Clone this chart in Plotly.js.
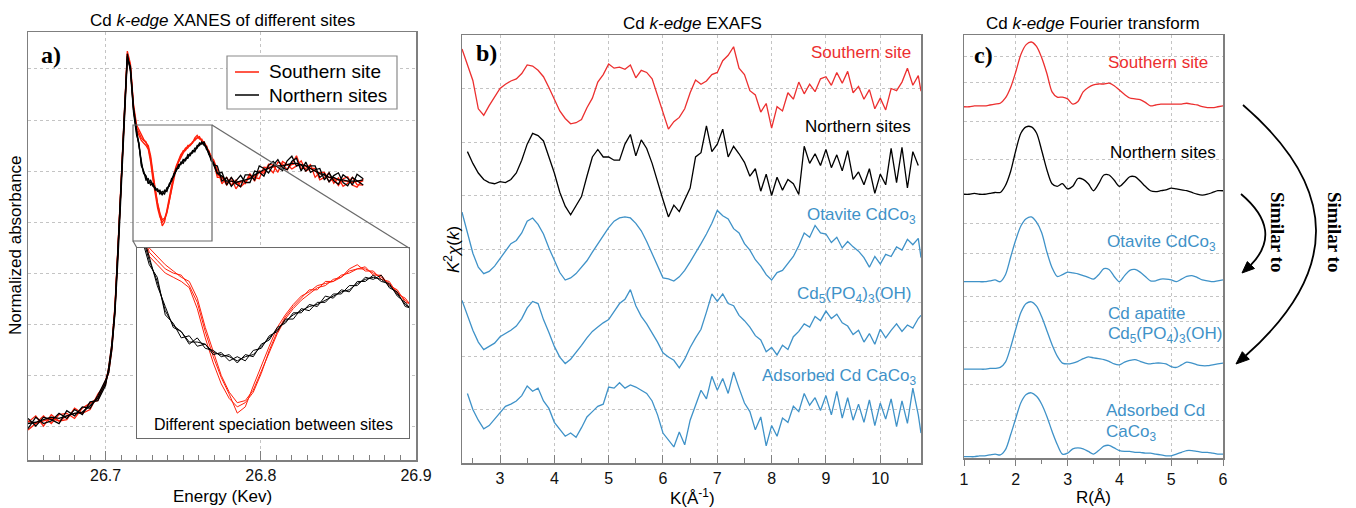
<!DOCTYPE html>
<html>
<head>
<meta charset="utf-8">
<script src="https://cdn.plot.ly/plotly-3.0.1.min.js"></script>
<style>html,body{margin:0;padding:0;background:#fff;}#chart{width:1356px;height:508px;}</style>
</head>
<body>
<div id="chart"></div>
<script>
// ---------------- DATA ----------------
// Panel a: XANES (energy in keV, normalized absorbance)
const energy = [26.650,26.655,26.660,26.665,26.670,26.675,26.680,26.685,26.690,26.695,26.700,
26.702,26.704,26.706,26.708,26.710,26.712,26.714,26.716,26.718,
26.7200,26.7215,26.7230,26.7245,26.7260,26.7275,26.7290,26.7305,26.7320,26.7335,26.7350,26.7365,26.7380,26.7395,26.7410,26.7425,26.7440,26.7455,26.7470,26.7485,26.7500,26.7515,26.7530,26.7545,26.7560,26.7575,26.7590,26.7605,26.7620,26.7635,26.7650,26.7665,26.7680,26.7695,
26.772,26.775,26.778,26.781,26.784,26.787,26.790,26.793,26.796,26.799,26.802,26.805,26.808,26.811,26.814,26.817,26.820,26.823,26.826,26.829,26.832,26.835,26.838,26.841,26.844,26.847,26.850,26.853,26.856,26.859,26.862,26.866];

const southern1 = [0.015,0.04,0.00,0.045,0.02,0.025,0.07,0.05,0.065,0.125,0.165,
0.23,0.32,0.47,0.71,0.98,1.25,1.47,1.42,1.26,
1.18,1.16,1.14,1.125,1.11,1.10,1.06,0.99,0.93,0.875,0.835,0.81,0.815,0.84,0.885,0.93,0.975,1.01,1.035,1.055,1.07,1.085,1.09,1.105,1.11,1.13,1.14,1.125,1.125,1.105,1.10,1.07,1.06,1.035,
0.975,0.975,0.945,0.975,0.93,0.958,0.95,0.985,0.975,0.97,1.015,1.012,0.993,1.035,1.027,1.005,1.028,1.06,1.01,1.01,1.025,0.975,0.995,0.995,0.958,0.972,0.943,0.97,0.977,0.945,0.937,0.97];
const southern2 = [-0.015,0.01,0.04,0.01,0.045,0.05,0.03,0.07,0.09,0.10,0.175,
0.21,0.30,0.45,0.69,0.96,1.23,1.45,1.40,1.24,
1.16,1.14,1.12,1.11,1.10,1.085,1.035,0.965,0.905,0.855,0.82,0.80,0.81,0.835,0.88,0.935,0.98,1.015,1.04,1.06,1.08,1.08,1.10,1.10,1.115,1.12,1.13,1.135,1.115,1.115,1.09,1.08,1.05,1.045,
1.005,0.95,0.975,0.945,0.965,0.938,0.955,0.99,0.96,1.0,0.99,1.027,1.023,0.995,1.037,1.025,1.008,1.02,1.04,1.0,1.01,1.01,0.965,0.975,0.993,0.952,0.973,0.94,0.952,0.975,0.947,0.945];
const southern3 = [0.02,0.01,0.02,0.03,0.02,0.04,0.05,0.05,0.09,0.11,0.18,
0.22,0.31,0.46,0.70,0.97,1.24,1.46,1.41,1.25,
1.17,1.15,1.13,1.12,1.115,1.09,1.05,0.98,0.92,0.87,0.83,0.785,0.80,0.85,0.90,0.945,0.99,1.02,1.045,1.065,1.075,1.09,1.095,1.10,1.11,1.125,1.13,1.13,1.12,1.11,1.095,1.075,1.055,1.04,
0.985,0.975,0.955,0.96,0.95,0.96,0.96,0.975,0.98,0.995,1.0,1.015,1.015,1.02,1.02,1.025,1.025,1.03,1.025,1.02,1.01,1.0,0.99,0.985,0.975,0.97,0.965,0.96,0.96,0.955,0.96,0.96];

const northern1 = [0.03,0.00,0.035,0.025,0.01,0.06,0.04,0.075,0.07,0.12,0.18,
0.21,0.30,0.44,0.66,0.93,1.20,1.44,1.41,1.25,
1.16,1.09,1.04,0.99,0.98,0.95,0.965,0.94,0.935,0.92,0.925,0.905,0.925,0.92,0.95,0.96,0.99,1.00,1.025,1.025,1.045,1.04,1.065,1.06,1.08,1.075,1.10,1.10,1.115,1.10,1.095,1.065,1.05,1.025,
1.02,0.96,0.975,0.94,0.96,0.983,0.955,0.955,1.0,0.995,0.98,1.022,1.038,1.015,1.002,1.04,1.058,1.02,1.025,1.0,1.02,1.02,0.975,0.99,0.958,0.982,0.993,0.955,0.942,0.975,0.962,0.945];
const northern2 = [-0.01,0.035,0.01,0.02,0.05,0.03,0.065,0.045,0.095,0.10,0.16,
0.23,0.32,0.46,0.70,0.97,1.24,1.46,1.39,1.23,
1.14,1.11,1.02,1.00,0.965,0.97,0.945,0.95,0.925,0.93,0.91,0.92,0.91,0.935,0.94,0.97,0.98,1.01,1.01,1.035,1.03,1.05,1.05,1.07,1.07,1.09,1.09,1.11,1.105,1.115,1.085,1.075,1.04,1.035,
0.99,0.995,0.945,0.975,0.95,0.938,0.985,0.985,0.965,1.02,1.01,0.992,1.023,1.045,1.012,1.005,1.038,1.05,1.0,1.035,0.995,1.005,1.01,0.965,0.993,0.962,0.948,0.985,0.972,0.945,0.987,0.97];
const northern3 = [0.01,0.015,0.025,0.035,0.03,0.04,0.05,0.055,0.08,0.11,0.17,
0.22,0.31,0.45,0.68,0.95,1.22,1.45,1.40,1.24,
1.15,1.10,1.03,0.995,0.98,0.955,0.955,0.95,0.93,0.925,0.92,0.91,0.92,0.925,0.945,0.965,0.985,1.005,1.02,1.03,1.04,1.045,1.055,1.065,1.075,1.08,1.095,1.105,1.11,1.105,1.09,1.07,1.045,1.03,
0.99,0.98,0.96,0.96,0.955,0.96,0.965,0.97,0.985,0.995,1.005,1.01,1.02,1.02,1.02,1.025,1.03,1.03,1.025,1.02,1.01,1.0,0.99,0.985,0.975,0.975,0.965,0.965,0.96,0.96,0.96,0.965];

const energyTicks = [26.7, 26.8, 26.9];
const energyTickText = ["26.7", "26.8", "26.9"];
const legendLabels = ["Southern site", "Northern sites"];

// Panel b: EXAFS k^2 chi(k), stacked
const kValues = [2.3,2.4,2.5,2.6,2.7,2.8,2.9,3.0,3.1,3.2,
3.3,3.4,3.5,3.6,3.7,3.8,3.9,4.0,4.1,4.2,
4.3,4.4,4.5,4.6,4.7,4.8,4.9,5.0,5.1,5.2,
5.3,5.4,5.5,5.6,5.7,5.8,5.9,6.0,6.1,6.2,
6.3,6.4,6.5,6.6,6.7,6.8,6.9,7.0,7.1,7.2,
7.3,7.4,7.5,7.6,7.7,7.8,7.9,8.0,8.1,8.2,
8.3,8.4,8.5,8.6,8.7,8.8,8.9,9.0,9.1,9.2,
9.3,9.4,9.5,9.6,9.7,9.8,9.9,10.0,10.1,10.2,
10.3,10.4,10.5,10.6,10.7,10.75];
const exafsSouthern = [7.74,7.45,7.15,6.62,6.50,6.68,6.85,7.00,7.08,7.14,
7.18,7.28,7.44,7.42,7.34,7.22,7.02,6.80,6.58,6.44,
6.34,6.36,6.42,6.64,6.82,7.12,7.26,7.46,7.38,7.40,
7.36,7.44,7.20,7.34,7.30,7.18,6.86,6.52,6.24,6.38,
6.46,6.62,6.92,7.16,7.08,7.14,7.26,7.30,7.52,7.62,
7.78,7.38,7.26,6.96,6.88,6.56,6.72,6.26,6.66,6.58,
6.92,6.80,7.12,6.90,7.08,6.94,7.18,7.22,7.06,7.30,
7.10,7.32,6.92,7.04,6.80,6.98,6.62,6.82,6.60,7.00,
6.96,7.12,7.38,7.06,7.24,6.95];
const exafsNorthern = [null,5.82,5.60,5.42,5.30,5.24,5.22,5.26,5.24,5.30,
5.42,5.66,5.96,6.16,6.12,6.02,5.74,5.42,5.06,4.80,
4.64,4.80,4.98,5.36,5.72,5.86,5.72,5.72,5.66,5.66,
5.96,6.14,5.74,6.04,5.88,5.60,5.24,4.92,4.60,4.82,
4.70,4.92,5.14,5.72,5.80,6.30,5.82,5.96,6.24,5.72,
5.92,5.78,5.62,5.36,5.50,5.08,5.40,5.00,5.34,5.10,
5.30,5.22,5.02,5.92,5.60,5.78,5.56,5.86,5.52,5.76,
5.46,5.84,5.30,5.44,5.20,5.50,5.04,5.40,5.20,5.88,
5.24,5.90,5.14,5.82,5.56,null];
const exafsOtavite = [4.69,4.28,3.92,3.66,3.54,3.58,3.68,3.82,3.96,4.10,
4.16,4.30,4.52,4.58,4.46,4.28,4.02,3.78,3.56,3.42,
3.46,3.54,3.66,3.78,3.94,4.10,4.26,4.40,4.52,4.58,
4.60,4.58,4.48,4.34,4.14,3.92,3.68,3.46,3.44,3.40,
3.48,3.60,3.76,3.92,4.10,4.28,4.48,4.72,4.62,4.56,
4.38,4.30,4.10,3.98,3.80,3.68,3.52,3.42,3.56,3.60,
3.74,3.86,4.06,4.30,4.22,4.44,4.30,4.28,4.12,4.22,
4.02,4.14,4.04,3.96,3.84,3.66,3.86,3.72,3.90,3.86,
4.04,3.98,4.18,4.08,4.20,3.84];
const exafsApatite = [3.04,2.74,2.48,2.26,2.12,2.18,2.24,2.36,2.42,2.48,
2.56,2.70,2.90,3.02,2.98,2.68,2.44,2.18,1.98,1.86,
1.94,2.06,2.20,2.34,2.46,2.54,2.62,2.68,2.84,2.98,
3.06,3.24,2.94,2.74,2.60,2.44,2.26,2.06,1.98,1.92,
1.78,1.94,2.16,2.34,2.50,2.82,3.16,3.02,3.16,2.98,
2.94,2.76,2.66,2.54,2.38,2.30,2.08,2.16,2.02,2.20,
2.12,2.36,2.46,2.60,2.54,2.74,2.66,2.84,2.70,2.78,
2.62,2.56,2.40,2.48,2.26,2.42,2.22,2.50,2.34,2.48,
2.60,2.46,2.58,2.52,2.70,2.76];
const exafsAdsorbed = [null,1.30,1.00,0.80,0.64,0.70,0.82,0.94,1.06,1.10,
1.16,1.26,1.44,1.34,1.40,1.16,1.02,0.76,0.64,0.50,
0.56,0.48,0.66,0.86,0.96,1.06,1.10,1.42,1.40,1.50,
1.40,1.46,1.42,1.36,1.30,1.16,0.90,0.56,0.44,0.30,
0.58,0.34,0.80,1.08,1.36,1.20,1.62,1.36,1.58,1.30,
1.70,1.40,1.12,0.96,0.62,0.86,0.32,0.70,0.50,0.84,
0.76,1.06,0.96,1.30,1.08,1.22,0.98,1.26,0.90,1.34,
0.84,1.22,0.80,1.10,0.76,1.18,0.70,1.12,0.82,1.20,
0.68,1.16,0.74,1.40,0.90,0.56];
const kTicks = [3,4,5,6,7,8,9,10];
const exafsGrid = [1,2,3,4,5,6,7];

// Panel c: Fourier transform magnitude, stacked
const rValues = [1.0,1.1,1.2,1.3,1.4,1.5,1.6,1.7,1.8,1.9,
2.0,2.1,2.2,2.3,2.4,2.5,2.6,2.7,2.8,2.9,
3.0,3.1,3.2,3.3,3.4,3.5,3.6,3.7,3.8,3.9,
4.0,4.1,4.2,4.3,4.4,4.5,4.6,4.7,4.8,4.9,
5.0,5.1,5.2,5.3,5.4,5.5,5.6,5.7,5.8,5.9,6.0];
const ftSouthern = [4.00,4.00,4.01,4.01,4.01,4.02,4.03,4.04,4.10,4.22,
4.40,4.60,4.71,4.74,4.69,4.56,4.38,4.17,4.11,4.11,
4.09,4.03,4.06,4.17,4.22,4.25,4.26,4.26,4.27,4.24,
4.19,4.14,4.10,4.09,4.08,4.05,4.01,4.02,4.03,4.03,
4.03,4.03,4.03,4.04,4.03,4.02,4.00,3.99,3.99,4.00,4.01];
const ftNorthern = [3.00,3.00,3.01,3.00,3.00,3.01,3.02,3.02,3.10,3.26,
3.50,3.70,3.77,3.77,3.70,3.50,3.28,3.12,3.09,3.12,
3.06,3.09,3.18,3.17,3.12,3.04,3.12,3.22,3.22,3.16,
3.09,3.14,3.20,3.20,3.15,3.09,3.04,3.03,3.04,3.05,
3.07,3.06,3.05,3.04,3.02,3.00,2.99,3.00,3.02,3.04,3.04];
const ftOtavite = [2.00,2.00,2.00,2.00,2.00,2.01,2.02,2.00,2.08,2.28,
2.48,2.64,2.72,2.74,2.68,2.56,2.34,2.16,2.06,2.08,
2.11,2.10,2.09,2.07,2.05,2.03,2.08,2.15,2.14,2.06,
2.00,2.07,2.13,2.14,2.11,2.06,2.01,2.01,2.03,2.03,
2.02,2.00,2.03,2.06,2.07,2.05,2.02,2.01,2.00,2.01,2.02];
const ftApatite = [1.00,1.00,1.00,1.00,1.00,1.01,1.01,1.02,1.08,1.25,
1.46,1.65,1.75,1.77,1.72,1.60,1.44,1.28,1.15,1.07,
1.06,1.07,1.09,1.12,1.14,1.13,1.12,1.11,1.09,1.06,
1.05,1.08,1.10,1.11,1.09,1.07,1.06,1.07,1.07,1.06,
1.03,1.02,1.05,1.08,1.07,1.05,1.04,1.04,1.05,1.06,1.07];
const ftAdsorbed = [0.00,0.00,0.00,0.01,0.01,0.02,0.03,0.02,0.08,0.25,
0.44,0.62,0.71,0.73,0.69,0.60,0.46,0.29,0.14,0.03,
0.04,0.09,0.10,0.09,0.06,0.03,0.07,0.12,0.13,0.10,
0.07,0.06,0.06,0.05,0.05,0.04,0.04,0.03,0.02,0.01,
0.01,0.03,0.05,0.07,0.07,0.06,0.05,0.05,0.04,0.03,0.03];
const rTicks = [1,2,3,4,5,6];
const ftGrid = [0.41,0.82,1.25,1.54,1.83,2.32,2.66,3.40,3.83,4.28,4.57];

// ---------------- LAYOUT HELPERS ----------------
const W = 1356, H = 508;
const px = x => x / W;
const py = y => 1 - y / H;
const SANS = 'Liberation Sans, Arial, Helvetica, sans-serif';
const SERIF = 'Liberation Serif, Times New Roman, serif';
const RED_A = '#ff1f0a', RED = '#ec2f2f', BLUE = '#3f92c8', BLACK = '#000000';
const AXC = '#7f7f7f', GRIDC = '#c4c4c4';

const traces = [];
const redSets = [southern1, southern2, southern3];
const blackSets = [northern1, northern2, northern3];
// main XANES
redSets.forEach(s => traces.push({x: energy, y: s, xaxis: 'x', yaxis: 'y', type: 'scatter', mode: 'lines',
  line: {color: RED_A, width: 1.3}, name: legendLabels[0], showlegend: false}));
blackSets.forEach(s => traces.push({x: energy, y: s, xaxis: 'x', yaxis: 'y', type: 'scatter', mode: 'lines',
  line: {color: BLACK, width: 1.3}, name: legendLabels[1], showlegend: false}));
// inset
redSets.forEach(s => traces.push({x: energy, y: s, xaxis: 'x2', yaxis: 'y2', type: 'scatter', mode: 'lines',
  line: {color: RED_A, width: 1}, showlegend: false}));
blackSets.forEach(s => traces.push({x: energy, y: s, xaxis: 'x2', yaxis: 'y2', type: 'scatter', mode: 'lines',
  line: {color: BLACK, width: 1}, showlegend: false}));
// EXAFS
[[exafsSouthern, RED], [exafsNorthern, BLACK], [exafsOtavite, BLUE], [exafsApatite, BLUE], [exafsAdsorbed, BLUE]]
  .forEach(([s, c]) => traces.push({x: kValues, y: s, xaxis: 'x3', yaxis: 'y3', type: 'scatter', mode: 'lines',
    line: {color: c, width: 1.3}, showlegend: false, connectgaps: false}));
// FT
[[ftSouthern, RED], [ftNorthern, BLACK], [ftOtavite, BLUE], [ftApatite, BLUE], [ftAdsorbed, BLUE]]
  .forEach(([s, c]) => traces.push({x: rValues, y: s, xaxis: 'x4', yaxis: 'y4', type: 'scatter', mode: 'lines',
    line: {color: c, width: 1.3, shape: 'spline', smoothing: 0.8}, showlegend: false}));

const frame = {showline: true, linecolor: AXC, linewidth: 1.5, mirror: true, zeroline: false};
const tickF = {family: SANS, size: 16, color: '#111'};

const layout = {
  width: W, height: H,
  margin: {l: 0, r: 0, t: 0, b: 0},
  paper_bgcolor: '#fff', plot_bgcolor: '#fff',
  showlegend: false,
  xaxis: Object.assign({}, frame, {domain: [px(28), px(416)], range: [26.65, 26.9], anchor: 'y',
    tickvals: energyTicks, ticktext: energyTickText, ticks: 'inside', ticklen: 9, tickcolor: AXC,
    tickfont: tickF, showgrid: true, gridcolor: GRIDC, griddash: 'dot', gridwidth: 1,
    minor: {dtick: 0.01, tick0: 26.65, ticks: 'inside', ticklen: 5, tickcolor: AXC, showgrid: false}}),
  yaxis: Object.assign({}, frame, {domain: [py(460), py(32)], range: [-0.133, 1.545], anchor: 'x',
    tickvals: [0, 0.2, 0.4, 0.6, 0.8, 1.0, 1.2, 1.4], showticklabels: false, ticks: '',
    showgrid: true, gridcolor: GRIDC, griddash: 'dot', gridwidth: 1}),
  xaxis2: {domain: [px(137), px(409)], range: [26.7177, 26.7687], anchor: 'y2',
    showline: true, linecolor: '#6a6a6a', linewidth: 1.2, mirror: true, showgrid: false, zeroline: false,
    showticklabels: false, ticks: ''},
  yaxis2: {domain: [py(438), py(248)], range: [0.7255, 1.18], anchor: 'x2',
    showline: true, linecolor: '#6a6a6a', linewidth: 1.2, mirror: true, showgrid: false, zeroline: false,
    showticklabels: false, ticks: ''},
  xaxis3: Object.assign({}, frame, {domain: [px(462), px(921)], range: [2.3, 10.75], anchor: 'y3',
    tickvals: kTicks, ticks: 'inside', ticklen: 8, tickcolor: AXC, tickfont: tickF,
    showgrid: true, gridcolor: GRIDC, griddash: 'dot', gridwidth: 1,
    minor: {dtick: 0.5, tick0: 2.5, ticks: 'inside', ticklen: 5, tickcolor: AXC, showgrid: false}}),
  yaxis3: Object.assign({}, frame, {domain: [py(463), py(35)], range: [0, 8], anchor: 'x3',
    tickvals: exafsGrid, showticklabels: false, ticks: '',
    showgrid: true, gridcolor: GRIDC, griddash: 'dot', gridwidth: 1}),
  xaxis4: Object.assign({}, frame, {domain: [px(964), px(1223)], range: [1, 6], anchor: 'y4',
    tickvals: rTicks, ticks: 'outside', ticklen: 6, tickcolor: AXC, tickfont: tickF,
    showgrid: true, gridcolor: GRIDC, griddash: 'dot', gridwidth: 1,
    minor: {dtick: 0.5, tick0: 1.5, ticks: 'outside', ticklen: 4, tickcolor: AXC, showgrid: false}}),
  yaxis4: Object.assign({}, frame, {domain: [py(458), py(35)], range: [-0.015, 4.82], anchor: 'x4',
    tickvals: ftGrid, showticklabels: false, ticks: '',
    showgrid: true, gridcolor: GRIDC, griddash: 'dot', gridwidth: 1}),
  annotations: [],
  shapes: []
};

function ann(text, x, y, o) {
  o = o || {};
  layout.annotations.push({
    text: text, x: px(x), y: py(y), xref: 'paper', yref: 'paper', showarrow: false,
    xanchor: o.xanchor || 'center', yanchor: 'middle', align: o.align || 'center',
    textangle: o.angle || 0,
    font: {family: o.family || SANS, size: o.size || 17, color: o.color || '#000', weight: o.weight || 'normal'}
  });
}
// titles
ann('Cd <i>k-edge</i> XANES of different sites', 222, 20);
ann('Cd <i>k-edge</i> EXAFS', 692, 23);
ann('Cd <i>k-edge</i> Fourier transform', 1093, 23);
// panel letters
ann('a)', 51, 55, {family: SERIF, size: 24, weight: 'bold'});
ann('b)', 486, 53, {family: SERIF, size: 24, weight: 'bold'});
ann('c)', 983, 55, {family: SERIF, size: 24, weight: 'bold'});
// axis titles
ann('Normalized absorbance', 15, 245, {angle: -90});
ann('Energy (Kev)', 222, 496);
ann('<i>K</i><sup>2</sup><i>χ</i>(<i>k</i>)', 452, 250, {angle: -90});
ann('K(Å<sup>-1</sup>)', 692, 497);
ann('R(Å)', 1093, 497);
// inset note
ann('Different speciation between sites', 273, 424, {size: 16});
// panel b labels
ann('Southern site', 913, 52, {xanchor: 'right', color: RED});
ann('Northern sites', 913, 126, {xanchor: 'right'});
ann('Otavite CdCo<sub>3</sub>', 918, 216, {xanchor: 'right', color: BLUE});
ann('Cd<sub>5</sub>(PO<sub>4</sub>)<sub>3</sub>(OH)', 913, 295, {xanchor: 'right', color: BLUE});
ann('Adsorbed Cd CaCo<sub>3</sub>', 918, 377, {xanchor: 'right', color: BLUE});
// panel c labels
ann('Southern site', 1158, 62, {color: RED});
ann('Northern sites', 1163, 152);
ann('Otavite CdCo<sub>3</sub>', 1161, 243, {color: BLUE});
ann('Cd apatite', 1106, 313, {xanchor: 'left', color: BLUE});
ann('Cd<sub>5</sub>(PO<sub>4</sub>)<sub>3</sub>(OH)', 1106, 335, {xanchor: 'left', color: BLUE});
ann('Adsorbed Cd', 1104, 410, {xanchor: 'left', color: BLUE});
ann('CaCo<sub>3</sub>', 1104, 433, {xanchor: 'left', color: BLUE});
// "Similar to"
ann('Similar to', 1278, 232, {family: SERIF, size: 19, angle: 90, weight: 'bold'});
ann('Similar to', 1335, 232, {family: SERIF, size: 19, angle: 90, weight: 'bold'});
// legend texts (panel a)
ann(legendLabels[0], 267, 72, {xanchor: 'left', size: 19});
ann(legendLabels[1], 267, 95, {xanchor: 'left', size: 19});

// shapes (paper coordinates)
function P(x, y) { return px(x).toFixed(5) + ',' + py(y).toFixed(5); }
function line(x0, y0, x1, y1, c, w) {
  layout.shapes.push({type: 'line', xref: 'paper', yref: 'paper', x0: px(x0), y0: py(y0), x1: px(x1), y1: py(y1),
    line: {color: c, width: w}, layer: 'above'});
}
// legend box (panel a)
layout.shapes.push({type: 'rect', xref: 'paper', yref: 'paper', x0: px(227), x1: px(397), y0: py(109), y1: py(56),
  line: {color: '#8a8a8a', width: 1.2}, fillcolor: '#ffffff', layer: 'above'});
line(235, 72, 259, 72, RED_A, 1.5);
line(235, 95, 259, 95, BLACK, 1.5);
// zoom box & connectors
layout.shapes.push({type: 'rect', xref: 'paper', yref: 'paper', x0: px(133), x1: px(212), y0: py(241), y1: py(125),
  line: {color: '#6a6a6a', width: 1.2}, fillcolor: 'rgba(0,0,0,0)', layer: 'above'});
line(212, 125, 409, 248, '#6a6a6a', 1.2);
line(133, 241, 137, 248, '#6a6a6a', 1.2);
// arcs with arrowheads
layout.shapes.push({type: 'path', xref: 'paper', yref: 'paper', layer: 'above',
  path: 'M' + P(1243, 105) + ' Q' + P(1387.6, 229.7) + ' ' + P(1245.8, 355.5),
  line: {color: '#000', width: 1.8}});
layout.shapes.push({type: 'path', xref: 'paper', yref: 'paper', layer: 'above',
  path: 'M' + P(1236, 364) + ' L' + P(1249.3, 359.3) + ' L' + P(1242.3, 351.7) + ' Z',
  fillcolor: '#000', line: {color: '#000', width: 1}});
layout.shapes.push({type: 'path', xref: 'paper', yref: 'paper', layer: 'above',
  path: 'M' + P(1241, 194) + ' Q' + P(1284.1, 230.5) + ' ' + P(1250.9, 265),
  line: {color: '#000', width: 1.8}});
layout.shapes.push({type: 'path', xref: 'paper', yref: 'paper', layer: 'above',
  path: 'M' + P(1242, 273) + ' L' + P(1254.5, 268.5) + ' L' + P(1247.3, 261.6) + ' Z',
  fillcolor: '#000', line: {color: '#000', width: 1}});

Plotly.newPlot('chart', traces, layout, {displayModeBar: false, staticPlot: true});
</script>
</body>
</html>
